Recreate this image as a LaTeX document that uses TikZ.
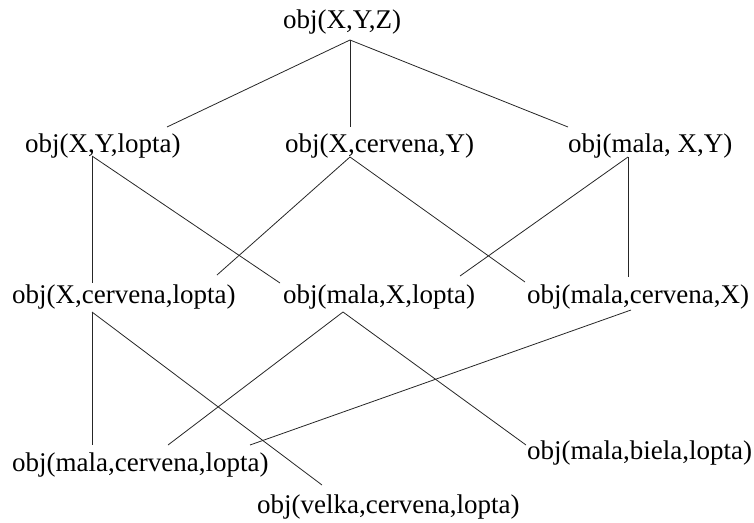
\documentclass[tikz,border=0pt]{standalone}
\usepackage{fontspec}
\setmainfont{Liberation Serif}
\begin{document}
\begin{tikzpicture}[x=1pt,y=-1pt,
  term/.style={anchor=base west,inner sep=0pt,font=\fontsize{27}{32}\selectfont},
  edge/.style={draw=black!85,line width=0.8pt}]
\useasboundingbox (0,0) rectangle (754,522);

% lattice terms, by level
\node[term] (xyz)   at (283,28)  {obj(X,Y,Z)};
\node[term] (xyl)   at (25,152)  {obj(X,Y,lopta)};
\node[term] (xcy)   at (285,152) {obj(X,cervena,Y)};
\node[term] (mxy)   at (568,152) {obj(mala, X,Y)};
\node[term] (xcl)   at (12,303)  {obj(X,cervena,lopta)};
\node[term] (mxl)   at (283,303) {obj(mala,X,lopta)};
\node[term] (mcx)   at (527,303) {obj(mala,cervena,X)};
\node[term] (mcl)   at (12,471)  {obj(mala,cervena,lopta)};
\node[term] (mbl)   at (527,459) {obj(mala,biela,lopta)};
\node[term] (vcl)   at (257,513) {obj(velka,cervena,lopta)};

% attachment points of the edges
\coordinate (xyz-b) at (350,40);
\coordinate (xyl-t) at (167,127);
\coordinate (xcy-t) at (350,127);
\coordinate (mxy-t) at (568,127);
\coordinate (xyl-b) at (92,156);
\coordinate (xcy-b) at (350,157);
\coordinate (mxy-b) at (628,157);
\coordinate (xcl-t) at (92,283);
\coordinate (xcl-tr) at (217,275);
\coordinate (mxl-tl) at (280,283);
\coordinate (mxl-tr) at (460,276);
\coordinate (mcx-tl) at (525,282);
\coordinate (mcx-t) at (628,277);
\coordinate (xcl-b) at (92,312);
\coordinate (mxl-b) at (343,312);
\coordinate (mcx-b) at (631,310);
\coordinate (mcl-t) at (92,445);
\coordinate (mcl-tm) at (168,445);
\coordinate (mcl-tr) at (250,445);
\coordinate (mbl-t) at (526,445);
\coordinate (vcl-t) at (322,485);

% edges
\draw[edge] (xyz-b) -- (xyl-t);
\draw[edge] (xyz-b) -- (xcy-t);
\draw[edge] (xyz-b) -- (mxy-t);
\draw[edge] (xyl-b) -- (xcl-t);
\draw[edge] (xyl-b) -- (mxl-tl);
\draw[edge] (xcy-b) -- (xcl-tr);
\draw[edge] (xcy-b) -- (mcx-tl);
\draw[edge] (mxy-b) -- (mxl-tr);
\draw[edge] (mxy-b) -- (mcx-t);
\draw[edge] (xcl-b) -- (mcl-t);
\draw[edge] (xcl-b) -- (vcl-t);
\draw[edge] (mxl-b) -- (mcl-tm);
\draw[edge] (mxl-b) -- (mbl-t);
\draw[edge] (mcx-b) -- (mcl-tr);
\end{tikzpicture}
\end{document}
